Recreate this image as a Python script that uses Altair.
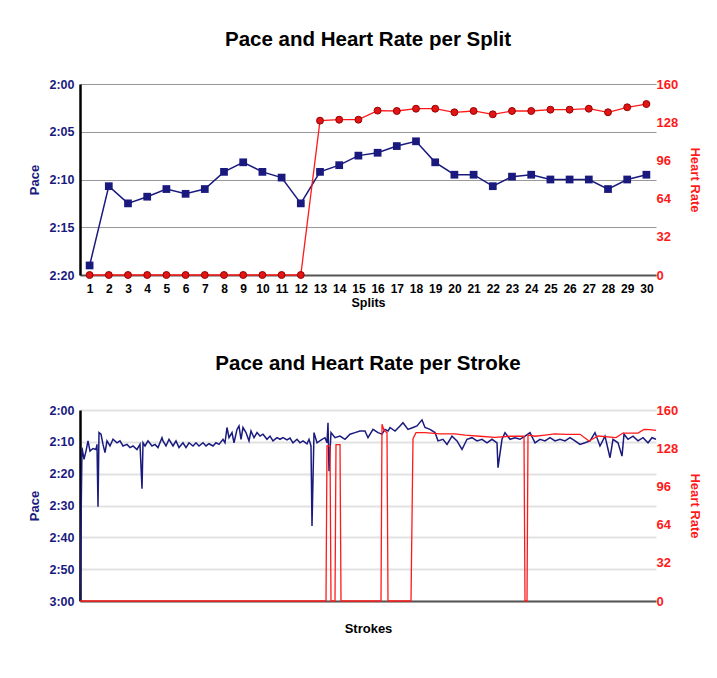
import altair as alt
import pandas as pd

# ---------------- data ----------------
splits = list(range(1, 31))
split_pace = [139.0, 130.7, 132.5, 131.8, 131.0, 131.5, 131.0, 129.2, 128.2, 129.2,
              129.8, 132.5, 129.2, 128.5, 127.5, 127.2, 126.5, 126.0, 128.2, 129.5,
              129.5, 130.7, 129.7, 129.5, 130.0, 130.0, 130.0, 131.0, 130.0, 129.5]
split_hr = [0, 0, 0, 0, 0, 0, 0, 0, 0, 0,
            0, 0, 129.3, 130.1, 130.1, 137.7, 137.4, 139.3, 139.3, 136.3,
            137.4, 134.6, 137.4, 137.4, 138.5, 138.5, 139.3, 136.3, 140.5, 143.2]

stroke_pace_x = [0, 2, 4, 6, 8, 10, 13, 16, 17, 18, 19, 21, 23, 25, 27, 30, 33, 37, 40, 43,
                 47, 50, 53, 57, 60, 62, 63, 65, 68, 72, 75, 78, 82, 83, 86, 89, 93, 96, 99, 103,
                 106, 109, 113, 116, 119, 123, 126, 129, 133, 136, 139, 143, 145, 147, 149, 152, 154, 157, 159, 161,
                 163, 166, 169, 171, 174, 177, 180, 183, 187, 190, 193, 197, 200, 203, 207, 210, 213, 217, 220, 223,
                 227, 229, 231, 232, 234, 237, 242, 245, 247, 248, 249, 251, 255, 260, 265, 270, 275, 280, 285, 288,
                 293, 298, 302, 305, 308, 310, 315, 320, 323, 328, 333, 337, 342, 345, 350, 355, 358, 363, 367, 372,
                 377, 382, 387, 392, 397, 402, 407, 412, 417, 418, 422, 425, 430, 435, 440, 445, 450, 455, 460, 465,
                 470, 475, 480, 485, 490, 495, 500, 505, 510, 515, 520, 525, 530, 533, 538, 542, 544, 548, 553, 558,
                 563, 568, 572, 576]
stroke_pace = [180.0, 131.8, 135.5, 132.9, 129.7, 132.9, 132.1, 132.4, 130.8, 150.4, 127.1, 127.6, 130.8, 133.4, 129.7, 131.3, 129.2, 130.3, 129.7, 131.3,
               130.8, 131.8, 131.3, 132.4, 130.8, 144.7, 130.3, 131.3, 129.7, 131.3, 130.8, 131.8, 128.7, 129.7, 131.3, 129.2, 131.3, 129.7, 131.8, 130.3,
               131.8, 130.3, 131.3, 130.3, 131.3, 130.3, 131.3, 130.6, 131.3, 130.3, 130.8, 129.2, 130.3, 125.5, 128.7, 127.1, 130.3, 126.1, 125.0, 129.2,
               125.5, 127.1, 129.7, 126.6, 128.7, 127.1, 128.2, 127.6, 129.2, 128.2, 129.7, 128.7, 129.2, 128.7, 129.4, 128.8, 130.3, 129.2, 130.3, 129.7,
               130.6, 129.2, 131.3, 156.4, 127.1, 130.3, 129.2, 128.7, 130.3, 124.0, 139.2, 127.1, 128.7, 128.2, 129.2, 127.6, 127.1, 126.6, 126.6, 128.7,
               126.1, 127.1, 127.6, 126.1, 126.6, 125.5, 126.6, 125.0, 124.0, 126.1, 125.5, 125.0, 123.1, 125.5, 126.1, 127.1, 129.7, 129.2, 130.8, 128.2,
               129.7, 132.4, 129.2, 128.7, 129.7, 129.2, 130.3, 129.2, 130.3, 138.1, 129.2, 127.1, 129.2, 128.7, 129.2, 128.2, 127.1, 130.3, 129.2, 129.7,
               128.7, 129.7, 129.2, 129.7, 128.7, 129.7, 130.8, 130.3, 129.7, 127.1, 131.3, 128.2, 135.0, 129.2, 130.3, 134.5, 127.6, 129.2, 128.2, 129.7,
               128.7, 130.3, 128.7, 129.2]

stroke_hr_x = [0, 246, 247, 250, 251, 255, 256, 260, 261, 301, 302, 304, 307, 308, 331, 333, 336, 345, 360, 375,
               385, 400, 415, 430, 444, 445, 447, 448, 455, 465, 475, 486, 500, 509, 518, 536, 543, 558, 564, 570, 576]
stroke_hr = [0, 0, 130, 130, 0, 0, 131, 131, 0, 0, 148, 143, 141, 0, 0, 136, 141, 141, 140, 140,
             139, 138, 137, 138, 138, 0, 0, 139, 138, 139, 140, 139.6, 139.6, 134, 138.2, 136.9, 140.7, 140.7, 143.8, 143.5, 143]

# ---------------- style ----------------
NAVY = "#1a1a7e"
RED = "#ff1a1a"
FONT = "Liberation Sans"
PACE_FMT = "floor(datum.value/60) + ':' + (datum.value % 60 < 10 ? '0' : '') + (datum.value % 60)"

W, H = 576, 191


def pace_axis(values, grid_color, grid_width):
    return alt.Axis(title="Pace", values=values, labelExpr=PACE_FMT, grid=True,
                    gridColor=grid_color, gridWidth=grid_width, ticks=False,
                    domain=True, domainColor="black", domainWidth=2.5,
                    labelColor=NAVY, labelFont=FONT, labelFontSize=12.5, labelFontWeight="bold",
                    labelPadding=6, titleColor=NAVY, titleFont=FONT, titleFontSize=13,
                    titleFontWeight="bold", titlePadding=7)


def hr_axis():
    return alt.Axis(title="Heart Rate", orient="right", values=[0, 32, 64, 96, 128, 160],
                    grid=False, ticks=False, domain=False, labelColor=RED, labelFont=FONT,
                    labelFontSize=13, labelFontWeight="bold", labelPadding=0, titleColor=RED,
                    titleFont=FONT, titleFontSize=13, titleFontWeight="bold", titlePadding=10)


def title(text, offset):
    return alt.TitleParams(text, font=FONT, fontSize=20.5, fontWeight="bold", color="black", offset=offset)


# ---------------- split chart ----------------
df_split = pd.DataFrame({"split": splits, "pace": split_pace, "hr": split_hr})
x_split = alt.X("split:O", scale=alt.Scale(type="point", padding=0.5),
                axis=alt.Axis(title="Splits", labelAngle=0, ticks=False, labelPadding=8,
                              domainColor="#555555", domainWidth=2, labelColor="black",
                              labelFont=FONT, labelFontSize=12, labelFontWeight="bold",
                              titleFont=FONT, titleFontSize=12.5, titleFontWeight="bold",
                              titleColor="black", titlePadding=2))

pace_split = alt.Chart(df_split).mark_line(
    color=NAVY, strokeWidth=1.5,
    point=alt.OverlayMarkDef(shape="square", size=60, filled=True, color=NAVY, opacity=1),
).encode(
    x=x_split,
    y=alt.Y("pace:Q", scale=alt.Scale(domain=[120, 140], reverse=True, nice=False, zero=False),
            axis=pace_axis([120, 125, 130, 135, 140], "#999999", 1)),
)

hr_split = alt.Chart(df_split).mark_line(
    color=RED, strokeWidth=1.3,
    point=alt.OverlayMarkDef(shape="circle", size=48, filled=True, fill="#e01515",
                             stroke="#9a0000", strokeWidth=1, opacity=1),
).encode(
    x=x_split,
    y=alt.Y("hr:Q", scale=alt.Scale(domain=[0, 160], nice=False), axis=hr_axis()),
)

top = alt.layer(pace_split, hr_split).resolve_scale(y="independent").properties(
    width=W, height=H, title=title("Pace and Heart Rate per Split", 28))

# ---------------- stroke chart ----------------
df_sp = pd.DataFrame({"stroke": stroke_pace_x, "pace": stroke_pace})
df_sh = pd.DataFrame({"stroke": stroke_hr_x, "hr": stroke_hr})
x_stroke = alt.X("stroke:Q", scale=alt.Scale(domain=[0, 576], nice=False, zero=False),
                 axis=alt.Axis(title="Strokes", labels=False, ticks=False, grid=False,
                               domainColor="#555555", domainWidth=2, titleFont=FONT,
                               titleFontSize=13, titleFontWeight="bold", titleColor="black",
                               titlePadding=21))

pace_stroke = alt.Chart(df_sp).mark_line(color=NAVY, strokeWidth=1.5).encode(
    x=x_stroke,
    y=alt.Y("pace:Q", scale=alt.Scale(domain=[120, 180], reverse=True, nice=False, zero=False),
            axis=pace_axis([120, 130, 140, 150, 160, 170, 180], "#e2e2e2", 2)),
)
hr_stroke = alt.Chart(df_sh).mark_line(color=RED, strokeWidth=1.3).encode(
    x=x_stroke,
    y=alt.Y("hr:Q", scale=alt.Scale(domain=[0, 160], nice=False), axis=hr_axis()),
)

bottom = alt.layer(pace_stroke, hr_stroke).resolve_scale(y="independent").properties(
    width=W, height=H, title=title("Pace and Heart Rate per Stroke", 30))

chart = alt.vconcat(top, bottom, spacing=44).properties(
    padding={"left": 20, "top": 21, "right": 5, "bottom": 5},
    background="white",
).configure_view(stroke=None)

chart.save("out.html", embed_options={"renderer": "svg", "actions": False})
